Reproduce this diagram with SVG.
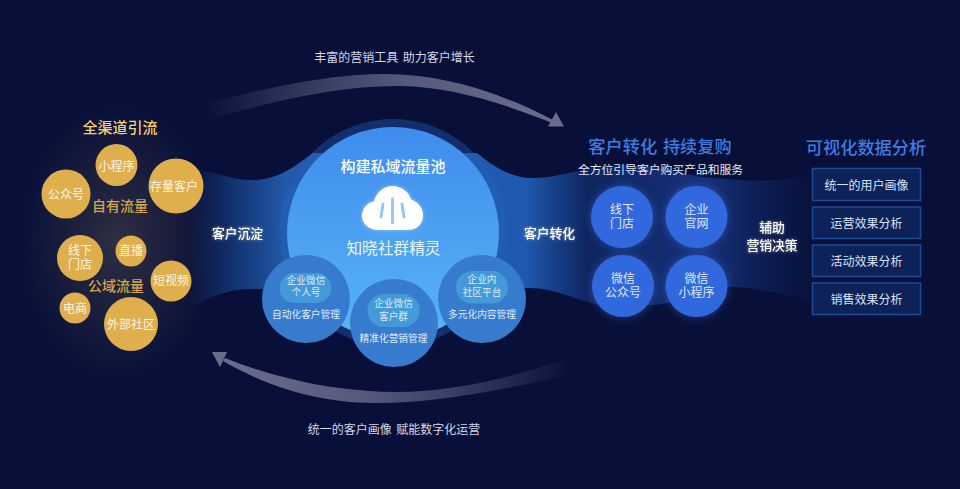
<svg xmlns="http://www.w3.org/2000/svg" width="960" height="489" viewBox="0 0 960 489">
<style>
text{font-family:"Noto Sans CJK SC","Liberation Sans",sans-serif;text-anchor:middle;fill:#eef3fb}
.gold{fill:#dfae4d}.gt{font-size:12px;fill:#fdf6e6}
.sub{font-size:14px;font-weight:500;fill:#d4a54b}
.blue{fill:#3368dd;filter:url(#glow)}.bt{font-size:12px;fill:#dfe8fb}
.mid{fill:#377bcf}.pill{fill:#4499d8}.mt{font-size:9.700px;fill:#dcecfb}
.box{fill:#0d2259;stroke:#1c4a94;stroke-width:1.5}.rt{font-size:12px;fill:#d8e2f5}
.h{font-size:17.200px;font-weight:500;fill:#3f7de0;word-spacing:2px}
.lab{font-size:12.800px;font-weight:500;fill:#fff;filter:url(#tg)}
.cap{font-size:12px;fill:#d5d8e4;word-spacing:2px}
</style>
<defs>
<linearGradient id="band" gradientUnits="userSpaceOnUse" x1="190" y1="0" x2="820" y2="0">
<stop offset="0" stop-color="#1f5cb0" stop-opacity="0"/>
<stop offset=".15" stop-color="#2258a8"/>
<stop offset=".53" stop-color="#1f5ab0"/>
<stop offset=".63" stop-color="#0f2560"/>
<stop offset=".82" stop-color="#16307a"/>
<stop offset="1" stop-color="#102660" stop-opacity="0"/>
</linearGradient>
<linearGradient id="core" x1="0" y1="0" x2="0" y2="1">
<stop offset="0" stop-color="#3f8ced"/><stop offset="1" stop-color="#58b4f6"/>
</linearGradient>
<linearGradient id="arrT" gradientUnits="userSpaceOnUse" x1="205" y1="0" x2="555" y2="0">
<stop offset="0" stop-color="#6a6d8c" stop-opacity="0"/><stop offset=".6" stop-color="#575a7c"/><stop offset="1" stop-color="#6a6d8c"/>
</linearGradient>
<linearGradient id="arrB" gradientUnits="userSpaceOnUse" x1="570" y1="0" x2="220" y2="0">
<stop offset="0" stop-color="#6a6d8c" stop-opacity="0"/><stop offset=".6" stop-color="#575a7c"/><stop offset="1" stop-color="#6a6d8c"/>
</linearGradient>
<radialGradient id="halo"><stop offset="0" stop-color="#f0c870" stop-opacity=".17"/><stop offset=".55" stop-color="#e0b860" stop-opacity=".08"/><stop offset="1" stop-color="#e0b860" stop-opacity="0"/></radialGradient>
<filter id="glow" x="-30%" y="-30%" width="160%" height="160%"><feDropShadow dx="0" dy="0" stdDeviation="4" flood-color="#3f78e8" flood-opacity=".45"/></filter>
<filter id="tg" x="-20%" y="-30%" width="140%" height="160%"><feDropShadow dx="0" dy="0" stdDeviation="1.500" flood-color="#fff" flood-opacity=".5"/></filter>
<filter id="cg" x="-20%" y="-20%" width="140%" height="140%"><feDropShadow dx="0" dy="0" stdDeviation="2" flood-color="#fff" flood-opacity=".4"/></filter>
</defs>
<rect width="960" height="489" fill="#081039"/>
<ellipse cx="118" cy="242" rx="100" ry="140" fill="url(#halo)"/>
<g id="connectors">
<path id="band-flow" fill="url(#band)" d="M190 168C215 172 232 180 252 180C280 180 296 165 313 153L477 153C492 165 510 179 535 178C565 177 590 165 625 165C665 165 685 177 715 178C745 181 780 184 820 172L820 301C790 298 765 287 730 287C700 287 680 305 650 305L600 305C575 300 555 288 530 288C515 288 505 290 480 290L310 290C285 290 270 289 250 289C225 289 210 298 190 308Z"/>
<path id="arrow-top" fill="url(#arrT)" d="M207 103C270 87 330 74 385 74C440 74 495 90 553 120L552 123C495 100 445 86 397 86C335 86 270 102 207 120Z"/>
<polygon fill="#6a6d8c" points="556,112 564,126.5 548,126.5"/>
<path id="arrow-bottom" fill="url(#arrB)" d="M568 358C530 372 460 392 397 392C345 392 285 382 225 358L223 361C265 385 315 403 375 403C440 403 510 388 568 375Z"/>
<polygon fill="#6a6d8c" points="212,352 227,352 220,367"/>
</g>
<g id="cap-top"><text class="cap" x="394.500" y="62">丰富的营销工具 助力客户增长</text></g>
<g id="cap-bottom"><text class="cap" x="394" y="434">统一的客户画像 赋能数字化运营</text></g>
<g id="sources">
<text x="120" y="133" font-size="15" font-weight="500" style="fill:#f2cf72">全渠道引流</text>
<text class="sub" x="120" y="211">自有流量</text>
<text class="sub" x="116" y="291">公域流量</text>
</g>
<g id="n-xcx"><circle class="gold" cx="116.500" cy="165" r="21"/><text class="gt" x="116.500" y="171">小程序</text></g>
<g id="n-gzh"><circle class="gold" cx="66" cy="194" r="24.500"/><text class="gt" x="66" y="199">公众号</text></g>
<g id="n-clkh"><circle class="gold" cx="176" cy="186" r="27.500"/><text class="gt" x="174" y="191">存量客户</text></g>
<g id="n-xxmd"><circle class="gold" cx="80" cy="258" r="23"/><text class="gt"><tspan x="80" y="255">线下</tspan><tspan x="80" y="269">门店</tspan></text></g>
<g id="n-zb"><circle class="gold" cx="131" cy="251" r="15.500"/><text class="gt" x="131" y="255">直播</text></g>
<g id="n-dsp"><circle class="gold" cx="171" cy="281" r="20.500"/><text class="gt" x="171" y="285">短视频</text></g>
<g id="n-ds"><circle class="gold" cx="75" cy="308" r="15.500"/><text class="gt" x="75" y="313">电商</text></g>
<g id="n-wbsq"><circle class="gold" cx="131" cy="324" r="27"/><text class="gt" x="131" y="329">外部社区</text></g>
<g id="l-cd"><text class="lab" x="237.500" y="238">客户沉淀</text></g>
<g id="l-zh"><text class="lab" x="549.500" y="238">客户转化</text></g>
<g id="core-node">
<circle cx="393" cy="233" r="114" fill="#2864be" fill-opacity=".38"/>
<circle cx="393" cy="233" r="106" fill="url(#core)"/>
<text x="393" y="172" font-size="15" font-weight="500" style="fill:#fff">构建私域流量池</text>
<path fill="#fff" filter="url(#cg)" d="M378 230C368.500 230 362 223.500 362 216C362 208 368 202 374 201.500C376 192.500 383.500 186 392.500 186C402 186 409.500 192.500 411 199.500C418 201.500 423 208 423 215.500C423 224 416.500 230 408 230Z"/>
<path fill="none" stroke="#8fc6f6" stroke-width="2.800" stroke-linecap="round" d="M392.500 199V223M383 204Q382 211 381 217M402 204Q403 211 404 217"/>
<text x="393.500" y="254" font-size="15.700" style="fill:#eaf5fe">知晓社群精灵</text>
</g>
<g id="n-personal"><circle class="mid" cx="306" cy="299" r="44"/><rect class="pill" x="279.500" y="273" width="52" height="30" rx="15"/><text class="mt"><tspan x="306" y="283.500">企业微信</tspan><tspan x="306" y="295.500">个人号</tspan><tspan x="306" y="317.500">自动化客户管理</tspan></text></g>
<g id="n-group"><circle class="mid" cx="394" cy="323" r="44"/><rect class="pill" x="367.500" y="294" width="52" height="33" rx="16"/><text class="mt"><tspan x="393.500" y="306.500">企业微信</tspan><tspan x="393.500" y="319.500">客户群</tspan><tspan x="393.500" y="341.500">精准化营销管理</tspan></text></g>
<g id="n-community"><circle class="mid" cx="482" cy="299" r="44"/><rect class="pill" x="456" y="271" width="52" height="32.500" rx="16"/><text class="mt"><tspan x="482" y="282.500">企业内</tspan><tspan x="482" y="295.500">社区平台</tspan><tspan x="482" y="317.500">多元化内容管理</tspan></text></g>
<g id="conv">
<text class="h" x="660" y="153">客户转化 持续复购</text>
<text x="660.500" y="174" font-size="11.800" style="fill:#e4e8f4">全方位引导客户购买产品和服务</text>
</g>
<g id="n-b1"><circle class="blue" cx="622" cy="217" r="31"/><text class="bt"><tspan x="622" y="214">线下</tspan><tspan x="622" y="228">门店</tspan></text></g>
<g id="n-b2"><circle class="blue" cx="696.500" cy="217" r="31"/><text class="bt"><tspan x="696.500" y="214">企业</tspan><tspan x="696.500" y="228">官网</tspan></text></g>
<g id="n-b3"><circle class="blue" cx="623" cy="286" r="31"/><text class="bt"><tspan x="623" y="283">微信</tspan><tspan x="623" y="297">公众号</tspan></text></g>
<g id="n-b4"><circle class="blue" cx="696.500" cy="286" r="31"/><text class="bt"><tspan x="696.500" y="283">微信</tspan><tspan x="696.500" y="297">小程序</tspan></text></g>
<g id="l-fz"><text class="lab"><tspan x="772" y="232">辅助</tspan><tspan x="772" y="250">营销决策</tspan></text></g>
<g id="analysis"><text class="h" x="866" y="154">可视化数据分析</text></g>
<g id="n-r1"><rect class="box" x="812.500" y="168.500" width="108" height="32"/><text class="rt" x="866.500" y="190">统一的用户画像</text></g>
<g id="n-r2"><rect class="box" x="812.500" y="207" width="108" height="31.500"/><text class="rt" x="866.500" y="228">运营效果分析</text></g>
<g id="n-r3"><rect class="box" x="812.500" y="245" width="108" height="31.500"/><text class="rt" x="866.500" y="266">活动效果分析</text></g>
<g id="n-r4"><rect class="box" x="812.500" y="283" width="108" height="31.500"/><text class="rt" x="866.500" y="304">销售效果分析</text></g>
</svg>
